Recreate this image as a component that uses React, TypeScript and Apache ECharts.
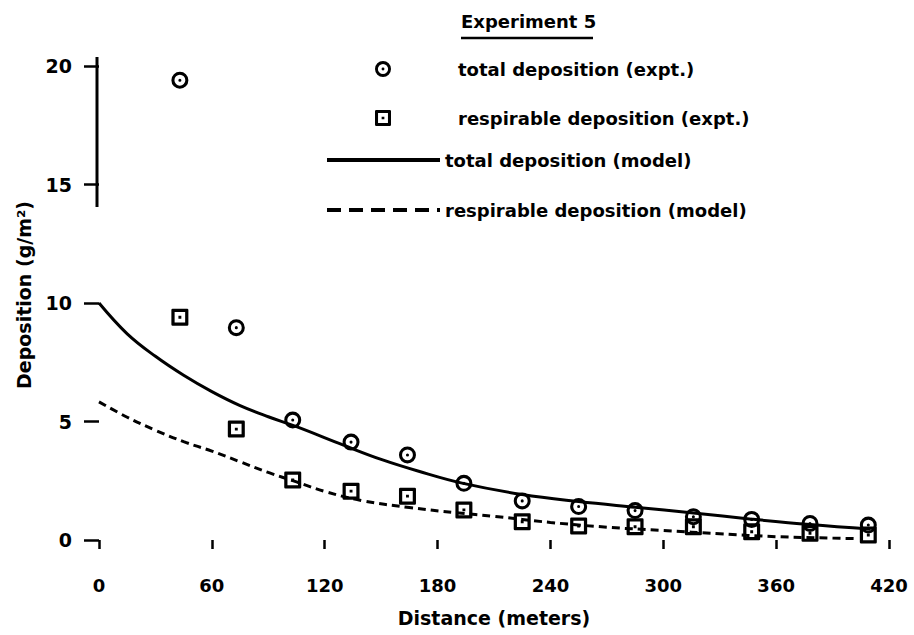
import React, { useEffect, useRef } from "react";
import * as echarts from "echarts";

const xTicks = [0, 60, 120, 180, 240, 300, 360, 420];
const yTicks = [0, 5, 10, 15, 20];

const distances = [43, 73, 103, 134, 164, 194, 225, 255, 285, 316, 347, 378, 409];
const totalExpt = [19.4, 8.96, 5.06, 4.13, 3.59, 2.39, 1.65, 1.41, 1.24, 0.98, 0.87, 0.7, 0.63];
const respExpt = [9.4, 4.68, 2.53, 2.06, 1.85, 1.27, 0.77, 0.59, 0.56, 0.56, 0.35, 0.28, 0.21];

const totalModelX = [0, 15, 30, 45, 60, 75, 90, 105, 130, 150, 170, 193, 225, 255, 285, 316, 347, 378, 410];
const totalModelY = [10, 8.7, 7.75, 6.95, 6.26, 5.67, 5.2, 4.78, 4.0, 3.4, 2.9, 2.4, 1.92, 1.62, 1.38, 1.14, 0.88, 0.65, 0.46];

const respModelX = [0, 15, 30, 45, 60, 75, 90, 105, 120, 140, 165, 190, 210, 240, 270, 300, 330, 360, 390, 402];
const respModelY = [5.83, 5.18, 4.63, 4.15, 3.75, 3.3, 2.85, 2.45, 2.05, 1.66, 1.37, 1.15, 1.0, 0.74, 0.54, 0.4, 0.26, 0.14, 0.08, 0.06];

const names = [
  "total deposition (expt.)",
  "respirable deposition (expt.)",
  "total deposition (model)",
  "respirable deposition (model)",
];

const FONT = "'DejaVu Sans', sans-serif";

const circleSym =
  "path://M10 0 A10 10 0 1 1 10 20 A10 10 0 1 1 10 0 Z " +
  "M10 3.6 A6.4 6.4 0 1 0 10 16.4 A6.4 6.4 0 1 0 10 3.6 Z " +
  "M10 8.2 A1.8 1.8 0 1 1 10 11.8 A1.8 1.8 0 1 1 10 8.2 Z";
const squareSym =
  "path://M1.5 0 H18.5 Q20 0 20 1.5 V18.5 Q20 20 18.5 20 H1.5 Q0 20 0 18.5 V1.5 Q0 0 1.5 0 Z " +
  "M3.8 3.8 V16.2 H16.2 V3.8 Z " +
  "M8.3 8.3 H11.7 V11.7 H8.3 Z";

export default function App() {
  const ref = useRef<HTMLDivElement>(null);
  useEffect(() => {
    document.body.style.margin = "0";
    const chart = echarts.init(ref.current!, undefined, { renderer: "svg" });
    const legendText = { fontFamily: FONT, fontWeight: "bold", fontSize: 18, color: "#000" };
    const option: any = {
      animation: false,
      backgroundColor: "#fff",
      title: {
        text: "Experiment 5",
        left: 461,
        top: 12,
        padding: 0,
        textStyle: { fontFamily: FONT, fontWeight: "bold", fontSize: 18, color: "#000" },
      },
      legend: [
        {
          data: [names[0], names[1]],
          orient: "vertical",
          left: 375,
          top: 60,
          padding: 0,
          itemWidth: 16,
          itemHeight: 16,
          itemGap: 31,
          textStyle: { ...legendText, padding: [5, 0, 0, 62] },
        },
        {
          data: [
            { name: names[2], itemStyle: { opacity: 0 }, lineStyle: { width: 4 } },
            { name: names[3], itemStyle: { opacity: 0 }, lineStyle: { width: 4, type: [14, 8] } },
          ],
          orient: "vertical",
          left: 325,
          top: 151,
          padding: 0,
          itemWidth: 113,
          itemHeight: 20,
          itemGap: 32,
          textStyle: { ...legendText, padding: [3, 0, 0, 0] },
        },
      ],
      grid: { left: 99, right: 25, top: 66, bottom: 95, containLabel: false },
      xAxis: {
        type: "value",
        min: 0,
        max: 420,
        interval: 60,
        offset: 10,
        name: "Distance (meters)",
        nameLocation: "middle",
        nameGap: 58,
        nameTextStyle: { fontFamily: FONT, fontWeight: "bold", fontSize: 19, color: "#000" },
        axisLine: { show: false },
        axisTick: { show: true, length: 9, lineStyle: { color: "#000", width: 2.5 } },
        axisLabel: {
          margin: 26,
          fontFamily: FONT,
          fontWeight: "bold",
          fontSize: 18,
          color: "#000",
          formatter: (v: number) => (xTicks.includes(v) ? String(v) : ""),
        },
        splitLine: { show: false },
      },
      yAxis: {
        type: "value",
        min: 0,
        max: 20,
        interval: 5,
        offset: 2,
        name: "Deposition (g/m²)",
        nameLocation: "middle",
        nameGap: 64,
        nameTextStyle: { fontFamily: FONT, fontWeight: "bold", fontSize: 19, color: "#000", padding: [0, 0, 0, 16] },
        axisLine: { show: false },
        axisTick: { show: true, length: 15, lineStyle: { color: "#000", width: 2.5 } },
        axisLabel: {
          margin: 25,
          fontFamily: FONT,
          fontWeight: "bold",
          fontSize: 19,
          color: "#000",
          formatter: (v: number) => (yTicks.includes(v) ? String(v) : ""),
        },
        splitLine: { show: false },
      },
      series: [
        {
          name: names[2],
          type: "line",
          data: totalModelX.map((x, i) => [x, totalModelY[i]]),
          smooth: 0.4,
          showSymbol: false,
          symbol: "none",
          lineStyle: { color: "#000", width: 3 },
          itemStyle: { color: "#000" },
          z: 2,
        },
        {
          name: names[3],
          type: "line",
          data: respModelX.map((x, i) => [x, respModelY[i]]),
          smooth: 0.4,
          showSymbol: false,
          symbol: "none",
          lineStyle: { color: "#000", width: 3, type: [8, 5] },
          itemStyle: { color: "#000" },
          z: 2,
        },
        {
          name: names[0],
          type: "scatter",
          data: distances.map((x, i) => [x, totalExpt[i]]),
          symbol: circleSym,
          symbolSize: 17,
          itemStyle: { color: "#000", opacity: 1 },
          z: 3,
        },
        {
          name: names[1],
          type: "scatter",
          data: distances.map((x, i) => [x, respExpt[i]]),
          symbol: squareSym,
          symbolSize: 17,
          itemStyle: { color: "#000", opacity: 1 },
          z: 3,
        },
      ],
    };
    chart.setOption(option);
    const top = chart.convertToPixel({ gridIndex: 0 }, [0, 20.38]) as number[];
    const bot = chart.convertToPixel({ gridIndex: 0 }, [0, 14.05]) as number[];
    chart.setOption({
      graphic: [
        {
          type: "line",
          shape: { x1: top[0] - 2, y1: top[1], x2: top[0] - 2, y2: bot[1] },
          style: { stroke: "#000", lineWidth: 3 },
        },
        {
          type: "line",
          shape: { x1: 461, y1: 38, x2: 593, y2: 38 },
          style: { stroke: "#000", lineWidth: 2.5 },
        },
      ],
    });
    return () => chart.dispose();
  }, []);
  return <div ref={ref} style={{ width: 914, height: 635 }} />;
}
